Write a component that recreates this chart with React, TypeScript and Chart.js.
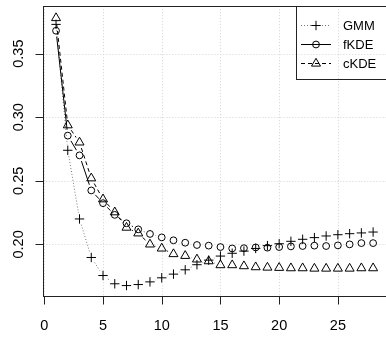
import React, { useEffect, useRef } from "react";
import { Chart, registerables } from "chart.js";

Chart.register(...registerables);

const xValues = [1, 2, 3, 4, 5, 6, 7, 8, 9, 10, 11, 12, 13, 14, 15, 16, 17, 18, 19, 20, 21, 22, 23, 24, 25, 26, 27, 28];
const gmm = [0.373, 0.274, 0.220, 0.1897, 0.1755, 0.169, 0.1676, 0.1684, 0.1705, 0.1737, 0.1766, 0.180, 0.184, 0.1876, 0.1908, 0.193, 0.1947, 0.1968, 0.199, 0.2005, 0.2024, 0.204, 0.2053, 0.2066, 0.2076, 0.2084, 0.209, 0.2097];
const fkde = [0.368, 0.2855, 0.270, 0.2424, 0.2324, 0.2232, 0.2166, 0.2118, 0.2082, 0.2055, 0.2032, 0.2013, 0.1995, 0.199, 0.1979, 0.1968, 0.197, 0.1976, 0.1974, 0.1979, 0.1984, 0.1987, 0.199, 0.1987, 0.1992, 0.200, 0.201, 0.201];
const ckde = [0.378, 0.2937, 0.2802, 0.252, 0.2355, 0.2253, 0.2132, 0.2087, 0.200, 0.1968, 0.1924, 0.191, 0.1882, 0.1868, 0.1837, 0.1837, 0.1829, 0.1821, 0.1818, 0.1816, 0.1813, 0.1813, 0.181, 0.181, 0.181, 0.181, 0.1813, 0.1813];
const seriesNames = ["GMM", "fKDE", "cKDE"];
const xTicks = [0, 5, 10, 15, 20, 25];
const yTicks = [0.2, 0.25, 0.3, 0.35];
const yTickLabels = ["0.20", "0.25", "0.30", "0.35"];

const FONT = "'Liberation Sans', Arial, Helvetica, sans-serif";
const lineColors = ["#777777", "#000000", "#000000"];
const lineDashes = [[1, 2], [], [4, 3]];
const pointStyles = ["cross", "circle", "triangle"];
const pointRadii = [4.7, 3.4, 5.2];
const GAP = 6;
const TICK = 8;

function drawMarker(ctx: CanvasRenderingContext2D, style: string, x: number, y: number, r: number) {
  ctx.setLineDash([]);
  ctx.strokeStyle = "#000";
  ctx.lineWidth = 1;
  ctx.beginPath();
  if (style === "cross") {
    ctx.moveTo(x - r, y);
    ctx.lineTo(x + r, y);
    ctx.moveTo(x, y - r);
    ctx.lineTo(x, y + r);
  } else if (style === "circle") {
    ctx.arc(x, y, r, 0, Math.PI * 2);
  } else {
    const a = -Math.PI / 2;
    for (let k = 0; k < 3; k++) {
      const ang = a + (k * 2 * Math.PI) / 3;
      const px = x + Math.cos(ang) * r;
      const py = y + Math.sin(ang) * r;
      if (k === 0) ctx.moveTo(px, py);
      else ctx.lineTo(px, py);
    }
    ctx.closePath();
  }
  ctx.stroke();
}

const rPlot = {
  id: "rPlot",
  beforeDatasetsDraw(chart: any) {
    const { ctx, chartArea: a, scales } = chart;
    const xs = scales.x;
    const ys = scales.y;
    ctx.save();
    ctx.strokeStyle = "#d3d3d3";
    ctx.lineWidth = 1;
    ctx.setLineDash([1, 2]);
    ctx.beginPath();
    for (const v of xTicks) {
      const px = Math.round(xs.getPixelForValue(v)) + 0.5;
      ctx.moveTo(px, a.top);
      ctx.lineTo(px, a.bottom);
    }
    for (const v of yTicks) {
      const py = Math.round(ys.getPixelForValue(v)) + 0.5;
      ctx.moveTo(a.left, py);
      ctx.lineTo(a.right, py);
    }
    ctx.stroke();
    chart.data.datasets.forEach((ds: any, i: number) => {
      const pts = chart.getDatasetMeta(i).data;
      ctx.strokeStyle = lineColors[i];
      ctx.setLineDash(lineDashes[i]);
      ctx.lineWidth = 1;
      for (let k = 0; k < pts.length - 1; k++) {
        const p0 = pts[k];
        const p1 = pts[k + 1];
        const dx = p1.x - p0.x;
        const dy = p1.y - p0.y;
        const d = Math.hypot(dx, dy);
        if (d <= 2 * GAP) continue;
        const ux = dx / d;
        const uy = dy / d;
        ctx.beginPath();
        ctx.moveTo(p0.x + ux * GAP, p0.y + uy * GAP);
        ctx.lineTo(p1.x - ux * GAP, p1.y - uy * GAP);
        ctx.stroke();
      }
    });
    ctx.restore();
  },
  afterDraw(chart: any) {
    const { ctx, chartArea: a, scales } = chart;
    const xs = scales.x;
    const ys = scales.y;
    ctx.save();
    ctx.setLineDash([]);
    ctx.strokeStyle = "#222";
    ctx.lineWidth = 1;
    const L = Math.round(a.left) + 0.5;
    const T = Math.round(a.top) + 0.5;
    const R = Math.round(a.right) + 0.5;
    const B = Math.round(a.bottom) + 0.5;
    ctx.strokeRect(L, T, R - L, B - T);
    ctx.beginPath();
    for (const v of xTicks) {
      const px = Math.round(xs.getPixelForValue(v)) + 0.5;
      ctx.moveTo(px, B);
      ctx.lineTo(px, B + TICK);
    }
    for (const v of yTicks) {
      const py = Math.round(ys.getPixelForValue(v)) + 0.5;
      ctx.moveTo(L, py);
      ctx.lineTo(L - TICK, py);
    }
    ctx.stroke();
    // legend
    const lx = 296.5;
    const ly = T;
    const lb = 79.5;
    ctx.strokeStyle = "#222";
    ctx.strokeRect(lx, ly, R + 2 - lx, lb - ly);
    const rows = [25, 44, 63];
    ctx.font = `13px ${FONT}`;
    ctx.fillStyle = "#000";
    ctx.textBaseline = "middle";
    ctx.textAlign = "left";
    seriesNames.forEach((name, i) => {
      const y = rows[i] + 0.5;
      ctx.strokeStyle = lineColors[i];
      ctx.setLineDash(lineDashes[i]);
      ctx.beginPath();
      ctx.moveTo(301, y);
      ctx.lineTo(331, y);
      ctx.stroke();
      drawMarker(ctx, pointStyles[i], 316, y, pointRadii[i]);
      ctx.fillText(name, 343, rows[i] + 1);
    });
    ctx.restore();
  },
};

export default function App() {
  const ref = useRef<HTMLCanvasElement>(null);
  useEffect(() => {
    if (!ref.current) return;
    const series = [gmm, fkde, ckde];
    const chart = new Chart(ref.current, {
      type: "line",
      data: {
        datasets: series.map((vals, i) => ({
          label: seriesNames[i],
          data: xValues.map((x, k) => ({ x, y: vals[k] })),
          showLine: false,
          pointStyle: pointStyles[i] as any,
          pointRadius: pointRadii[i],
          pointBorderColor: "#000",
          pointBackgroundColor: "rgba(0,0,0,0)",
          pointBorderWidth: 1,
          borderColor: "#000",
        })),
      },
      options: {
        responsive: false,
        animation: false,
        devicePixelRatio: 1,
        layout: { padding: { top: 6, right: 3.4, left: 0, bottom: 0 } },
        plugins: { legend: { display: false }, tooltip: { enabled: false } },
        scales: {
          x: {
            type: "linear",
            min: -0.08,
            max: 29.08,
            afterBuildTicks: (s: any) => {
              s.ticks = xTicks.map((v) => ({ value: v }));
            },
            afterFit: (s: any) => {
              s.height = 42;
              s.paddingLeft = 0;
              s.paddingRight = 0;
              s.paddingTop = 0;
              s.paddingBottom = 0;
            },
            grid: { color: "transparent", tickColor: "transparent", tickLength: TICK, drawTicks: true },
            border: { display: false },
            ticks: {
              color: "#000",
              font: { family: FONT, size: 14.5 },
              padding: 13,
              maxRotation: 0,
              minRotation: 0,
              callback: (v: any) => String(v),
            },
          },
          y: {
            type: "linear",
            min: 0.1594,
            max: 0.3873,
            afterBuildTicks: (s: any) => {
              s.ticks = yTicks.map((v) => ({ value: v }));
            },
            afterFit: (s: any) => {
              s.width = 43.35;
              s.paddingLeft = 0;
              s.paddingRight = 0;
              s.paddingTop = 0;
              s.paddingBottom = 0;
            },
            grid: { color: "transparent", tickColor: "transparent", tickLength: TICK, drawTicks: true },
            border: { display: false },
            ticks: {
              color: "#000",
              font: { family: FONT, size: 14.5 },
              padding: 2.5,
              minRotation: 90,
              maxRotation: 90,
              crossAlign: "center",
              callback: (v: any) => {
                const idx = yTicks.findIndex((t) => Math.abs(t - v) < 1e-9);
                return idx >= 0 ? yTickLabels[idx] : "";
              },
            },
          },
        },
      },
      plugins: [rPlot],
    });
    return () => chart.destroy();
  }, []);
  return (
    <div style={{ position: "absolute", left: 0, top: 0, width: 386, height: 338, overflow: "hidden", background: "#fff" }}>
      <canvas ref={ref} width={392} height={338} style={{ display: "block", width: 392, height: 338 }} />
    </div>
  );
}
